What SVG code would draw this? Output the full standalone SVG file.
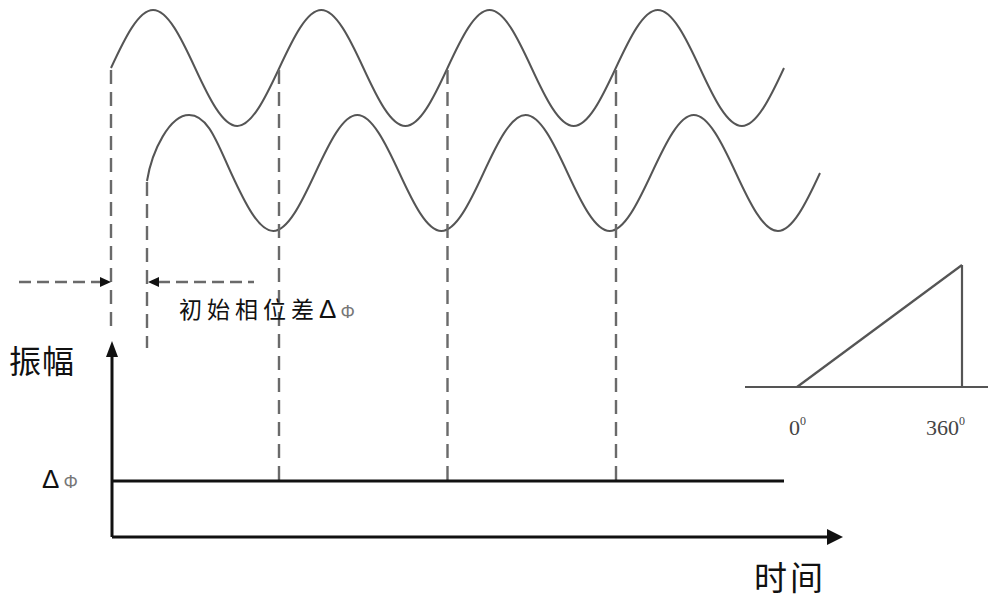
<svg xmlns="http://www.w3.org/2000/svg" width="1000" height="604" viewBox="0 0 1000 604">
<style>
.wave{fill:none;stroke:#555;stroke-width:2}
.dash{fill:none;stroke:#6a6a6a;stroke-width:2.4;stroke-dasharray:14 8}
.hdash{fill:none;stroke:#6a6a6a;stroke-width:2.4;stroke-dasharray:12 6}
.axis{fill:none;stroke:#111;stroke-width:3}
.thin{fill:none;stroke:#555;stroke-width:2.2}
.cjk{font-family:"Noto Sans CJK SC","Noto Sans CJK JP",sans-serif;fill:#111}
.num{font-family:"Liberation Serif",serif;fill:#444}
</style>
<rect width="1000" height="604" fill="#fff"/>
<g id="wave1">
<path class="wave" d="M111,68 C124.7,38.3 138.5,10 153.1,10 S181.4,38.3 195.1,68 S222.7,126 237.2,126 S265.5,97.7 279.3,68 S306.8,10 321.3,10 S349.7,38.3 363.4,68 S390.9,126 405.4,126 S433.8,97.7 447.5,68 S475.0,10 489.6,10 S517.9,38.3 531.6,68 S559.2,126 573.7,126 S602.0,97.7 615.8,68 S643.3,10 657.8,10 S686.2,38.3 699.9,68 S727.4,126 741.9,126 S770.3,97.7 784,68"/>
</g>
<g id="wave2">
<path class="wave" d="M147,181 C152,150 170,115 189.1,115 S217.4,143.3 231.1,173 S258.7,231 273.2,231 S301.5,202.7 315.3,173 S342.8,115 357.3,115 S385.7,143.3 399.4,173 S426.9,231 441.4,231 S469.8,202.7 483.5,173 S511.0,115 525.6,115 S553.9,143.3 567.6,173 S595.2,231 609.7,231 S638.0,202.7 651.8,173 S679.3,115 693.8,115 S722.2,143.3 735.9,173 S763.4,231 777.9,231 S806.3,202.7 820,173"/>
</g>
<g id="connectors">
<line class="dash" x1="111" y1="70" x2="111" y2="334"/>
<line class="dash" x1="147" y1="182" x2="147" y2="348"/>
<line class="dash" x1="279" y1="70" x2="279" y2="480"/>
<line class="dash" x1="447.5" y1="70" x2="447.5" y2="480"/>
<line class="dash" x1="616" y1="70" x2="616" y2="480"/>
<line class="hdash" x1="19" y1="282" x2="101" y2="282"/>
<polygon points="111,282 100,277 100,287" fill="#111"/>
<line class="hdash" x1="158" y1="282" x2="254" y2="282"/>
<polygon points="148,282 159,277 159,287" fill="#111"/>
</g>
<g id="axes">
<line class="axis" x1="112" y1="352" x2="112" y2="537"/>
<polygon points="112,341 106,357 118,357" fill="#111"/>
<line class="axis" x1="112" y1="537" x2="830" y2="537"/>
<polygon points="843,537 827,529 827,545" fill="#111"/>
<line class="axis" x1="112" y1="481" x2="784" y2="481"/>
</g>
<g id="inset">
<line class="thin" x1="745" y1="387" x2="988" y2="387"/>
<line class="thin" x1="797" y1="387" x2="962" y2="265"/>
<line class="thin" x1="962" y1="265" x2="962" y2="387"/>
<text class="num" x="789" y="435" font-size="22">0<tspan font-size="12" dy="-10">0</tspan></text>
<text class="num" x="926" y="435" font-size="22">360<tspan font-size="12" dy="-10">0</tspan></text>
</g>
<g id="labels">
<text class="cjk" x="179" y="318" font-size="23" letter-spacing="5">初始相位差<tspan font-family="Liberation Sans,sans-serif" letter-spacing="0" font-size="26">Δ</tspan><tspan font-family="Liberation Sans,sans-serif" fill="#777" font-size="18" letter-spacing="0" dx="4">Φ</tspan></text>
<text class="cjk" x="9" y="373" font-size="32" letter-spacing="1">振幅</text>
<text x="42" y="488" font-family="Liberation Sans,sans-serif" font-size="26" fill="#111">Δ<tspan fill="#777" font-size="18" dx="4">Φ</tspan></text>
<text class="cjk" x="754" y="590" font-size="33" letter-spacing="3">时间</text>
</g>
</svg>
